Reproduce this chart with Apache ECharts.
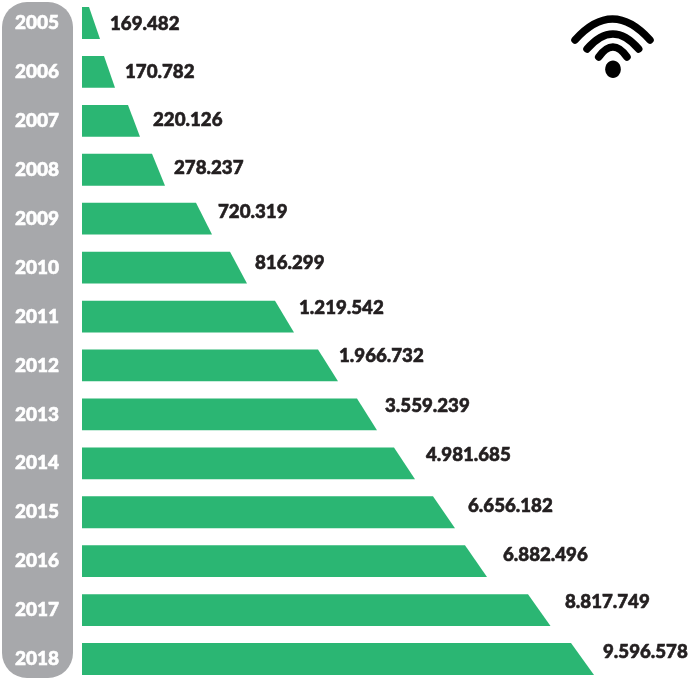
<!DOCTYPE html>
<html>
<head>
<meta charset="utf-8">
<style>html,body{margin:0;padding:0;background:#fff}#c{width:689px;height:678px}</style>
<script src="https://cdn.jsdelivr.net/npm/echarts@6/dist/echarts.min.js"></script>
</head>
<body>
<div id="c"></div>
<script>
// Row labels
const years = ['2005','2006','2007','2008','2009','2010','2011','2012','2013','2014','2015','2016','2017','2018'];
// Printed values
const printedValues = [169482,170782,220126,278237,720319,816299,1219542,1966732,3559239,4981685,6656182,6882496,8817749,9596578];
// Drawn bar lengths (the source graphic is not to scale with its printed values)
const drawnLengthBottom = [18,33,58,83,130,165,212,256,295,333,373,405,468.5,512];
const drawnLengthTop = [7,22,46,70,114,148,193,236,275,312,351,383,446,489];

// Label placement relative to each bar's end and centre
const labelDx = [10,10,13,9,6,8,5,1,8,11,13,16,14.5,9];
const labelDy = [1,0,-1,-2,-7,-4.5,-9,-9,-8,-8,-6,-6,-8,-7];

const fmt = v => String(v).replace(/\B(?=(\d{3})+$)/g, '.');
const FONT = 'Lato, "Open Sans", sans-serif';

const chart = echarts.init(document.getElementById('c'), null, {renderer:'canvas'});
chart.setOption({
  animation:false,
  backgroundColor:'#fff',
  grid:{left:82,right:0,top:23,height:636},
  xAxis:{type:'value',min:0,max:607,show:false},
  yAxis:{
    type:'category',inverse:true,data:years,boundaryGap:false,
    axisLine:{show:false},axisTick:{show:false},splitLine:{show:false},
    axisLabel:{color:'#fff',fontFamily:FONT,fontWeight:900,fontSize:19,margin:23,align:'right',
      textBorderColor:'#fff',textBorderWidth:0.6,interval:0},
    z:5
  },
  graphic:[
    {type:'rect',z:-1,silent:true,shape:{x:2,y:2,width:71,height:676,r:25},style:{fill:'#a7a8ab'}},
    {type:'bezierCurve',silent:true,shape:{x1:575,y1:40,x2:650,y2:40,cpx1:612.5,cpy1:-2},style:{fill:null,stroke:'#000',lineWidth:7.5,lineCap:'round'}},
    {type:'bezierCurve',silent:true,shape:{x1:587,y1:49,x2:638.7,y2:49,cpx1:613,cpy1:19},style:{fill:null,stroke:'#000',lineWidth:7.5,lineCap:'round'}},
    {type:'bezierCurve',silent:true,shape:{x1:598.7,y1:57,x2:627,y2:57,cpx1:613,cpy1:37},style:{fill:null,stroke:'#000',lineWidth:7.5,lineCap:'round'}},
    {type:'ellipse',silent:true,shape:{cx:613,cy:69.3,rx:7.8,ry:8.7},style:{fill:'#000'}}
  ],
  series:[{
    type:'custom',
    coordinateSystem:'cartesian2d',
    clip:false,
    encode:{x:[1,2],y:0},
    data:years.map((y,i)=>[i,drawnLengthBottom[i],drawnLengthTop[i],printedValues[i]]),
    renderItem:function(params,api){
      const i=api.value(0);
      const h=31.8;
      const bot=api.coord([api.value(1),i]);
      const top=api.coord([api.value(2),i]);
      const base=api.coord([0,i]);
      const cy=base[1];
      return {type:'group',children:[
        {type:'polygon',shape:{points:[[base[0],cy-h/2],[top[0],cy-h/2],[bot[0],cy+h/2],[base[0],cy+h/2]]},style:{fill:'#2bb673'}},
        {type:'text',style:{x:bot[0]+labelDx[i],y:cy+labelDy[i],text:fmt(api.value(3)),fill:'#231f20',stroke:'#231f20',lineWidth:0.6,font:'900 18.7px '+FONT,textAlign:'left',textVerticalAlign:'middle'}}
      ]};
    }
  }]
});
</script>
</body>
</html>
